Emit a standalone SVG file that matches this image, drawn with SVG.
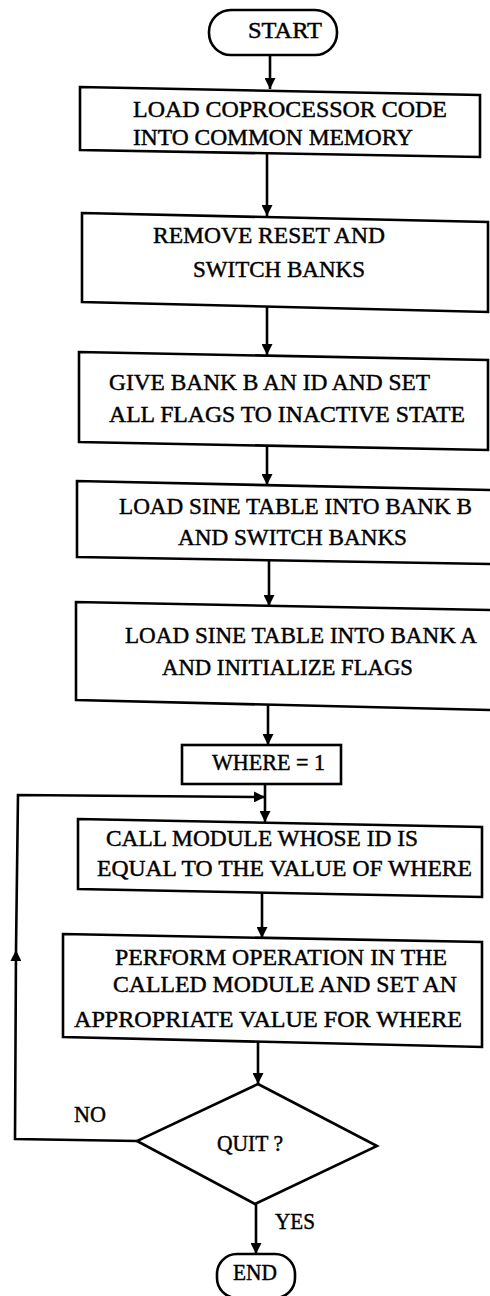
<svg xmlns="http://www.w3.org/2000/svg" width="490" height="1296" viewBox="0 0 490 1296">
<style>
.box{fill:none;stroke:#000;stroke-width:2.6;stroke-linejoin:miter}
.conn{fill:none;stroke:#000;stroke-width:2.6}
.t{font-family:"Liberation Serif","Times New Roman",serif;font-size:24px;fill:#000;stroke:#000;stroke-width:0.45}
</style>
<defs>
<marker id="ah" viewBox="0 0 10 10" refX="10" refY="5" markerWidth="11" markerHeight="11" markerUnits="userSpaceOnUse" orient="auto">
<path d="M0,0 L10,5 L0,10 z" fill="#000"/>
</marker>
</defs>
<rect width="490" height="1296" fill="#fff"/>
<g id="connectors">
<path class="conn" d="M270,55 L270,89" marker-end="url(#ah)"/>
<path class="conn" d="M267,153 L267,216" marker-end="url(#ah)"/>
<path class="conn" d="M267,306 L267,355" marker-end="url(#ah)"/>
<path class="conn" d="M267,446 L267,485" marker-end="url(#ah)"/>
<path class="conn" d="M269,561 L269,606" marker-end="url(#ah)"/>
<path class="conn" d="M268,704 L268,745" marker-end="url(#ah)"/>
<path class="conn" d="M265,784 L265,822" marker-end="url(#ah)"/>
<path class="conn" d="M262,893 L262,938" marker-end="url(#ah)"/>
<path class="conn" d="M258,1042 L258,1084" marker-end="url(#ah)"/>
<path class="conn" d="M256,1204 L256,1254" marker-end="url(#ah)"/>
<path class="conn" d="M137,1141 L15,1139 L16,950" marker-end="url(#ah)"/>
<path class="conn" d="M16,950 L18,795 L265,797" marker-end="url(#ah)"/>
</g>
<g id="start">
<rect class="box" x="209" y="10" width="128" height="45" rx="22" ry="22"/>
<text class="t" x="248" y="38" textLength="74" lengthAdjust="spacingAndGlyphs">START</text>
</g>
<g id="load-code">
<polygon class="box" points="80,87 480,95 480,157 80,150"/>
<text class="t" x="133" y="117" textLength="314" lengthAdjust="spacingAndGlyphs">LOAD COPROCESSOR CODE</text>
<text class="t" x="133" y="145" textLength="280" lengthAdjust="spacingAndGlyphs">INTO COMMON MEMORY</text>
</g>
<g id="remove-reset">
<polygon class="box" points="82,213 488,222 488,312 82,302"/>
<text class="t" x="153" y="243" textLength="232" lengthAdjust="spacingAndGlyphs">REMOVE RESET AND</text>
<text class="t" x="193" y="277" textLength="172" lengthAdjust="spacingAndGlyphs">SWITCH BANKS</text>
</g>
<g id="give-id">
<polygon class="box" points="79,352 488,360 488,450 79,442"/>
<text class="t" x="109" y="390" textLength="321" lengthAdjust="spacingAndGlyphs">GIVE BANK B AN ID AND SET</text>
<text class="t" x="109" y="422" textLength="356" lengthAdjust="spacingAndGlyphs">ALL FLAGS TO INACTIVE STATE</text>
</g>
<g id="load-sine-b">
<path class="box" d="M490,490 L77,481 L77,557 L490,564"/>
<text class="t" x="119" y="514" textLength="353" lengthAdjust="spacingAndGlyphs">LOAD SINE TABLE INTO BANK B</text>
<text class="t" x="178" y="545" textLength="229" lengthAdjust="spacingAndGlyphs">AND SWITCH BANKS</text>
</g>
<g id="load-sine-a">
<path class="box" d="M490,610 L76,602 L76,700 L490,710"/>
<text class="t" x="125" y="643" textLength="352" lengthAdjust="spacingAndGlyphs">LOAD SINE TABLE INTO BANK A</text>
<text class="t" x="162" y="675" textLength="251" lengthAdjust="spacingAndGlyphs">AND INITIALIZE FLAGS</text>
</g>
<g id="where">
<rect class="box" x="182" y="745" width="159" height="39"/>
<text class="t" x="212" y="770" textLength="113" lengthAdjust="spacingAndGlyphs">WHERE = 1</text>
</g>
<g id="call-module">
<polygon class="box" points="78,819 482,827 482,897 78,889"/>
<text class="t" x="106" y="846" textLength="312" lengthAdjust="spacingAndGlyphs">CALL MODULE WHOSE ID IS</text>
<text class="t" x="97" y="876" textLength="375" lengthAdjust="spacingAndGlyphs">EQUAL TO THE VALUE OF WHERE</text>
</g>
<g id="perform">
<polygon class="box" points="63,934 482,942 482,1047 63,1037"/>
<text class="t" x="115" y="965" textLength="332" lengthAdjust="spacingAndGlyphs">PERFORM OPERATION IN THE</text>
<text class="t" x="113" y="992" textLength="344" lengthAdjust="spacingAndGlyphs">CALLED MODULE AND SET AN</text>
<text class="t" x="74" y="1027" textLength="388" lengthAdjust="spacingAndGlyphs">APPROPRIATE VALUE FOR WHERE</text>
</g>
<g id="quit">
<polygon class="box" points="258,1084 377,1146 255,1204 137,1141"/>
<text class="t" x="217" y="1151" textLength="66" lengthAdjust="spacingAndGlyphs">QUIT ?</text>
</g>
<g id="labels">
<text class="t" x="74" y="1122" textLength="32" lengthAdjust="spacingAndGlyphs">NO</text>
<text class="t" x="275" y="1229" textLength="40" lengthAdjust="spacingAndGlyphs">YES</text>
</g>
<g id="end">
<rect class="box" x="217" y="1254" width="78" height="44" rx="20" ry="20"/>
<text class="t" x="233" y="1280" textLength="44" lengthAdjust="spacingAndGlyphs">END</text>
</g>
</svg>
